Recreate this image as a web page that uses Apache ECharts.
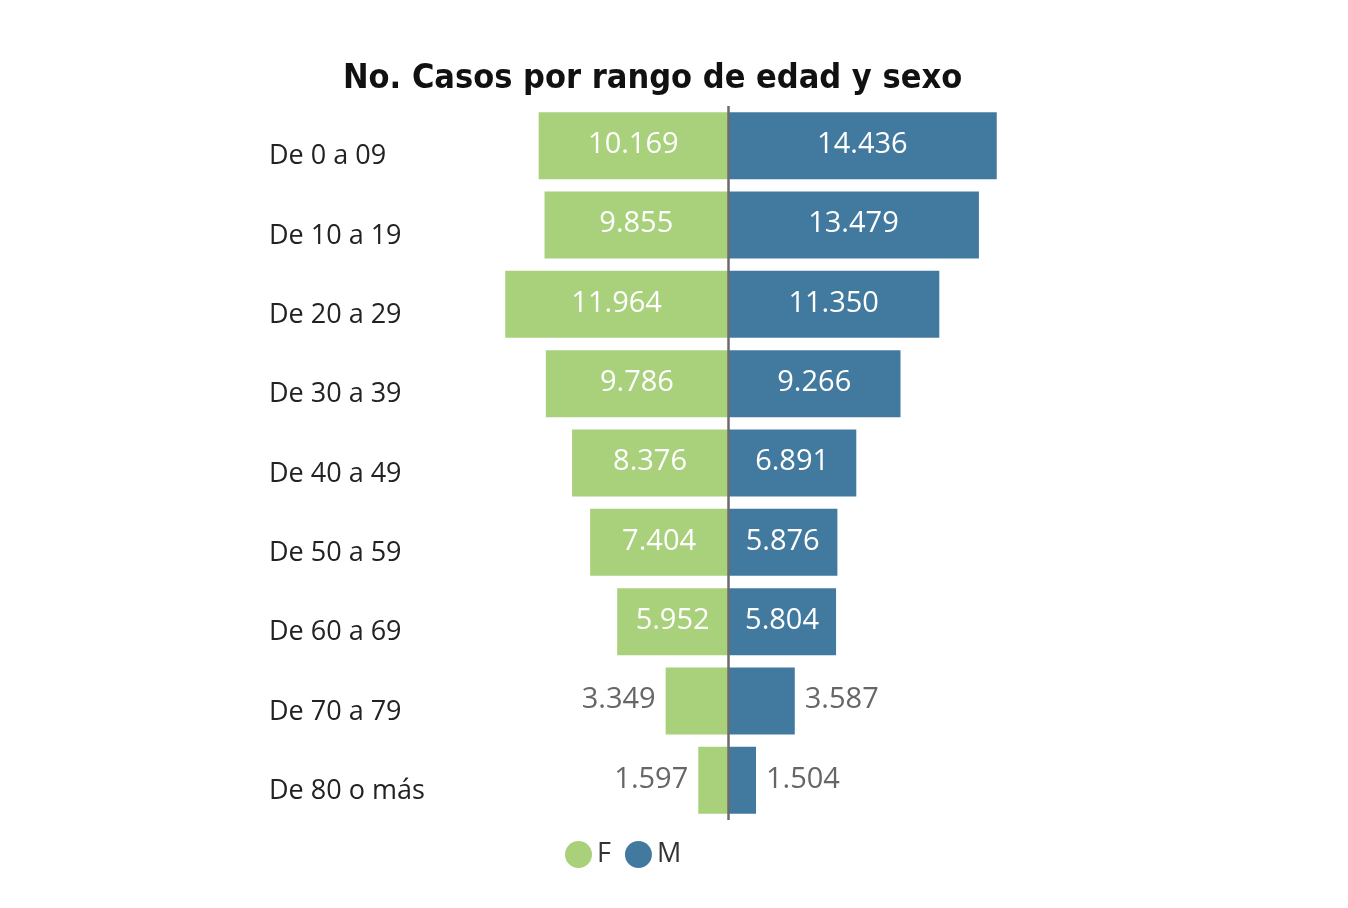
<!DOCTYPE html>
<html>
<head>
<meta charset="utf-8">
<script src="https://cdn.jsdelivr.net/npm/echarts@6/dist/echarts.min.js"></script>
<style>
  html, body { margin: 0; padding: 0; background: #fff; }
  #chart { width: 1348px; height: 908px; }
</style>
</head>
<body>
<div id="chart"></div>
<script>
const categories = ['De 0 a 09', 'De 10 a 19', 'De 20 a 29', 'De 30 a 39', 'De 40 a 49',
  'De 50 a 59', 'De 60 a 69', 'De 70 a 79', 'De 80 o más'];
const femaleCases = [10169, 9855, 11964, 9786, 8376, 7404, 5952, 3349, 1597];
const maleCases = [14436, 13479, 11350, 9266, 6891, 5876, 5804, 3587, 1504];

const colorF = '#a9d07a';
const colorM = '#427a9f';
const valueFont = 'Open Sans';

function fmt(v) {
  return Math.abs(v).toString().replace(/\B(?=(\d{3})+(?!\d))/g, '.');
}

// small bars get the label outside, in gray
function buildData(values, sign, outsidePos) {
  return values.map(v => {
    const item = { value: sign * v };
    if (v < 4000) {
      item.label = { position: outsidePos, color: '#666666', distance: 10 };
    }
    return item;
  });
}

const chart = echarts.init(document.getElementById('chart'));

chart.setOption({
  backgroundColor: '#fff',
  animation: false,
  title: {
    text: 'No. Casos por rango de edad y sexo',
    left: 338,
    top: 57,
    textStyle: {
      fontFamily: 'DejaVu Sans Condensed',
      fontWeight: 'bold',
      fontSize: 34,
      color: '#111',
    },
  },
  legend: {
    data: ['F', 'M'],
    left: 560,
    top: 836,
    icon: 'circle',
    itemWidth: 27,
    itemHeight: 27,
    itemGap: 14,
    textStyle: {
      fontFamily: valueFont,
      fontSize: 27,
      color: '#333',
    },
  },
  grid: {
    left: 432,
    right: 324,
    top: 106,
    bottom: 88,
    containLabel: false,
  },
  xAxis: {
    type: 'value',
    min: -15900,
    max: 15900,
    show: false,
  },
  yAxis: {
    type: 'category',
    data: categories,
    inverse: true,
    axisLine: { show: false },
    axisTick: { show: false },
    axisLabel: {
      align: 'left',
      verticalAlign: 'top',
      lineHeight: 22,
      margin: 163,
      fontFamily: valueFont,
      fontSize: 27,
      color: '#222',
    },
  },
  series: [
    {
      name: 'F',
      type: 'bar',
      stack: 'total',
      barWidth: 67,
      itemStyle: { color: colorF },
      label: {
        show: true,
        position: 'inside',
        color: '#fff',
        fontFamily: valueFont,
        fontSize: 29,
        offset: [0, -1],
        formatter: p => fmt(p.value),
      },
      data: buildData(femaleCases, -1, 'left'),
      markLine: {
        silent: true,
        symbol: 'none',
        label: { show: false },
        lineStyle: { color: '#6b6b6b', width: 2.5, type: 'solid' },
        data: [{ xAxis: 0 }],
      },
    },
    {
      name: 'M',
      type: 'bar',
      stack: 'total',
      barWidth: 67,
      itemStyle: { color: colorM },
      label: {
        show: true,
        position: 'inside',
        color: '#fff',
        fontFamily: valueFont,
        fontSize: 29,
        offset: [0, -1],
        formatter: p => fmt(p.value),
      },
      data: buildData(maleCases, 1, 'right'),
    },
  ],
});
</script>
</body>
</html>
